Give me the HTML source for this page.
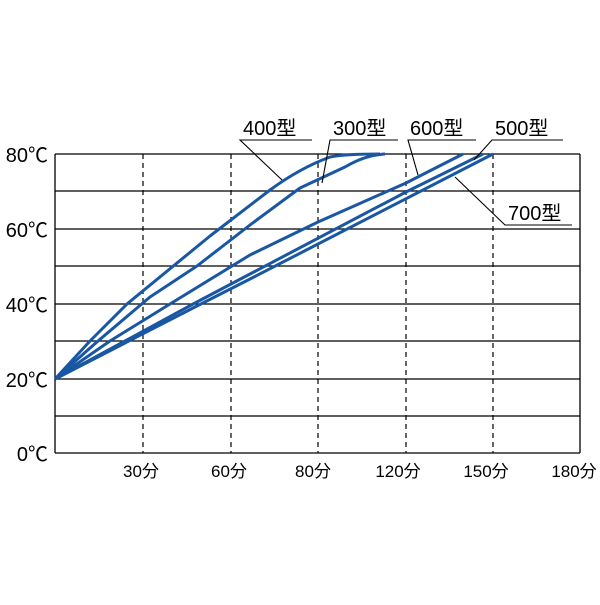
<!DOCTYPE html>
<html><head><meta charset="utf-8"><style>body{margin:0;background:#fff}</style></head><body>
<svg width="600" height="600" xmlns="http://www.w3.org/2000/svg" font-family="Liberation Sans, Noto Sans CJK JP, sans-serif">
<rect width="600" height="600" fill="#fff"/>
<g stroke="#000" stroke-width="1.3">
<line x1="55" y1="154" x2="580" y2="154"/><line x1="55" y1="191" x2="580" y2="191"/>
<line x1="55" y1="229" x2="580" y2="229"/><line x1="55" y1="266" x2="580" y2="266"/>
<line x1="55" y1="304" x2="580" y2="304"/><line x1="55" y1="341" x2="580" y2="341"/>
<line x1="55" y1="379" x2="580" y2="379"/><line x1="55" y1="416" x2="580" y2="416"/>
<line x1="55" y1="453" x2="580" y2="453"/>
<line x1="55" y1="154" x2="55" y2="453"/><line x1="580" y1="154" x2="580" y2="453"/>
</g>
<g stroke="#000" stroke-width="1.2" stroke-dasharray="5,4">
<line x1="143" y1="154" x2="143" y2="453"/><line x1="231" y1="154" x2="231" y2="453"/>
<line x1="318" y1="154" x2="318" y2="453"/><line x1="406" y1="154" x2="406" y2="453"/>
<line x1="493" y1="154" x2="493" y2="453"/>
</g>
<g fill="none" stroke="#1a57a3" stroke-width="3" stroke-linejoin="round">
<path d="M55,379 L90,341 L127,304 L210,236 L270,190 Q300,168 330,157 Q345,154 380,154"/>
<path d="M55,379 L98,341 L150,297 L197,266 L250,225 L300,188 L345,167 Q365,155 385,154"/>
<path d="M55,379 L110,341 L170,304 L250,255 L318,222 L406,183 L463,154"/>
<path d="M55,379 L125,341 L195,303 L250,274 L406,192 L483,154"/>
<path d="M55,379 L125,343 L195,307 L250,279 L493,154"/>
</g>
<g stroke="#000" stroke-width="1.1" fill="none">
<polyline points="312,140 240,140 282,180"/>
<polyline points="398,140 330,140 322,183"/>
<polyline points="476,140 408,140 418,175"/>
<polyline points="563,140 492,140 474,160"/>
<polyline points="572,225 505,225 455,177"/>
</g>
<g font-size="20" fill="#000">
<text x="243" y="135">400型</text><text x="333" y="135">300型</text>
<text x="410" y="135">600型</text><text x="495" y="135">500型</text>
<text x="508" y="220">700型</text>
</g>
<g font-size="20" fill="#000" text-anchor="end">
<text x="48" y="162">80℃</text><text x="48" y="237">60℃</text>
<text x="48" y="312">40℃</text><text x="48" y="387">20℃</text>
<text x="48" y="461">0℃</text>
</g>
<g font-size="17" fill="#000" text-anchor="middle">
<text x="141" y="477">30分</text><text x="229" y="477">60分</text>
<text x="313" y="477">80分</text><text x="398" y="477">120分</text>
<text x="486" y="477">150分</text><text x="574" y="477">180分</text>
</g>
</svg>
</body></html>
